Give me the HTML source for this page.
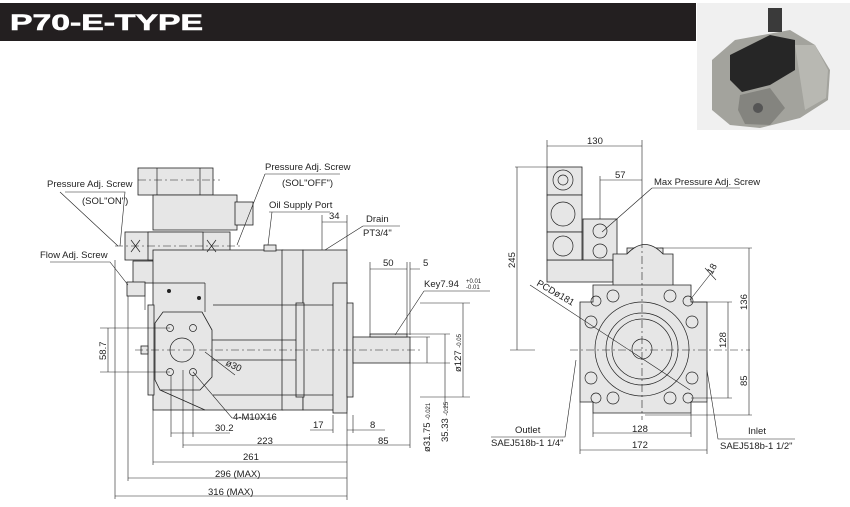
<!DOCTYPE html>
<html><head><meta charset="utf-8"><style>
html,body{margin:0;padding:0;background:#fff;}
svg{display:block;font-family:"Liberation Sans",Arial,sans-serif;}
</style></head><body>
<svg width="850" height="507" viewBox="0 0 850 507" xmlns="http://www.w3.org/2000/svg">
<rect x="0" y="3" width="696" height="38" fill="#231f20"/>
<text x="10" y="30" fill="#fff" font-size="22" font-weight="bold" textLength="193" lengthAdjust="spacingAndGlyphs" stroke="#fff" stroke-width="0.6">P70-E-TYPE</text>
<!-- photo -->
<rect x="697" y="3" width="153" height="127" fill="#f0f0f0"/>
<path d="M712 60 L735 40 L790 30 L815 45 L830 70 L828 100 L800 118 L760 128 L730 125 L712 110 Z" fill="#a3a39d"/>
<path d="M730 55 L770 35 L795 40 L795 70 L770 85 L742 92 L730 80 Z" fill="#262626"/>
<rect x="768" y="8" width="14" height="24" fill="#3a3a3a"/>
<path d="M740 95 L770 88 L785 108 L770 125 L745 124 L738 110 Z" fill="#84847f"/>
<circle cx="758" cy="108" r="5" fill="#555"/>
<path d="M795 45 L815 45 L828 70 L826 98 L805 110 Z" fill="#b8b8b2"/>

<g fill="#e6e6e6" stroke="#222" stroke-width="0.8">
<rect x="138" y="168" width="75" height="27"/>
<rect x="153" y="195" width="84" height="35"/>
<rect x="235" y="202" width="18" height="23"/>
<rect x="125" y="232" width="105" height="28"/>
<rect x="148" y="232" width="55" height="28"/>
<rect x="133" y="261" width="87" height="22"/>
<rect x="153" y="250" width="130" height="160"/>
<rect x="282" y="250" width="21" height="160"/>
<rect x="303" y="250" width="44" height="160"/>
<rect x="296" y="303" width="8" height="94"/>
<rect x="333" y="283" width="14" height="130"/>
<rect x="347" y="303" width="6" height="94"/>
<rect x="353" y="337" width="57" height="26"/>
<rect x="370" y="334" width="37" height="3"/>
<rect x="148" y="305" width="6" height="90"/>
<rect x="141" y="346" width="7" height="8"/>
<rect x="264" y="245" width="12" height="6"/>
<rect x="127" y="282" width="18" height="14"/>
<path d="M163 312 L202 312 L212 330 L212 377 L200 390 L160 390 L155 380 L155 323 Z"/>
</g>
<g fill="none" stroke="#222" stroke-width="0.7">
<line x1="153" y1="283" x2="205" y2="283"/><line x1="205" y1="283" x2="205" y2="312"/>
<line x1="213" y1="305" x2="333" y2="305"/><line x1="213" y1="395" x2="333" y2="395"/>
<line x1="212" y1="340" x2="296" y2="340"/><line x1="212" y1="360" x2="296" y2="360"/>
<line x1="160" y1="390" x2="205" y2="410"/>
<line x1="157" y1="168" x2="157" y2="195"/><line x1="200" y1="168" x2="200" y2="195"/>
<circle cx="182" cy="350" r="12"/>
<circle cx="170" cy="328" r="3.5"/><circle cx="193" cy="328" r="3.5"/>
<circle cx="170" cy="372" r="3.5"/><circle cx="193" cy="372" r="3.5"/>
<path d="M131 240 L140 252 M140 240 L131 252 M207 240 L216 252 M216 240 L207 252"/>
</g>
<circle cx="169" cy="291" r="2" fill="#222"/><circle cx="199" cy="298" r="2" fill="#222"/>
<g stroke="#222" stroke-width="0.6" stroke-dasharray="8,3,2,3">
<line x1="135" y1="350" x2="420" y2="350"/>
<line x1="115" y1="246" x2="240" y2="246"/>
<line x1="138" y1="180" x2="220" y2="180"/>
</g>
<g font-size="9.5" fill="#222">
<text x="47" y="187">Pressure Adj. Screw</text>
<text x="82" y="204">(SOL"ON")</text>
<text x="265" y="170">Pressure Adj. Screw</text>
<text x="282" y="186">(SOL"OFF")</text>
<text x="269" y="208">Oil Supply Port</text>
<text x="329" y="219">34</text>
<text x="366" y="222">Drain</text>
<text x="363" y="236">PT3/4"</text>
<text x="40" y="258">Flow Adj. Screw</text>
<text x="383" y="266">50</text>
<text x="423" y="266">5</text>
<text x="424" y="287">Key7.94</text>
<text x="466" y="283" font-size="6">+0.01</text>
<text x="466" y="289" font-size="6">-0.01</text>
<text x="233" y="420">4-M10X16</text>
<text x="215" y="431">30.2</text>
<text x="313" y="428">17</text>
<text x="370" y="428">8</text>
<text x="257" y="444">223</text>
<text x="378" y="444">85</text>
<text x="243" y="460">261</text>
<text x="215" y="477">296 (MAX)</text>
<text x="208" y="495">316 (MAX)</text>
<text transform="translate(106,360) rotate(-90)">58.7</text>
<text transform="translate(225,365) rotate(25)">ø30</text>
<text transform="translate(430,452) rotate(-90)">ø31.75 <tspan font-size="6">-0.021</tspan></text>
<text transform="translate(448,442) rotate(-90)">35.33 <tspan font-size="6">-0.25</tspan></text>
<text transform="translate(461,372) rotate(-90)">ø127 <tspan font-size="6">-0.05</tspan></text>
</g>
<g stroke="#222" stroke-width="0.6" fill="none">
<path d="M65 192 L125 192 L120 246 M60 192 L118 246"/>
<path d="M265 174 L340 174 M265 174 L237 245"/>
<path d="M269 212 L330 212 M272 212 L268 245"/>
<path d="M322 222 L347 222 M322 215 L322 250 M347 215 L347 250"/>
<path d="M363 226 L400 226 M363 226 L325 250"/>
<path d="M50 262 L110 262 L128 285"/>
<path d="M370 269 L407 269 M370 262 L370 335 M407 262 L407 335 M410 269 L420 269 M410 262 L410 335"/>
<path d="M424 291 L490 291 M424 291 L395 335"/>
<path d="M420 303 L470 303 M463 303 L463 397 M420 397 L470 397"/>
<path d="M410 337 L430 337 M427 337 L427 363 M410 363 L450 363 M445 334 L445 410 M407 334 L450 334"/>
<path d="M100 328 L170 328 M100 372 L170 372 M108 328 L108 372"/>
<path d="M193 372 L232 418 L275 418 M205 352 L235 375"/>
<path d="M171 375 L171 437 M193 375 L193 437 M171 433 L193 433 M193 433 L230 433"/>
<path d="M183 370 L183 448 M183 445 L347 445 M347 413 L347 500 M347 445 L410 445 M410 363 L410 448"/>
<path d="M333 415 L333 433 M310 430 L333 430 M347 430 L385 430 M353 415 L353 433"/>
<path d="M153 395 L153 465 M153 462 L347 462"/>
<path d="M128 296 L128 481 M128 478 L347 478 M145 296 L145 310"/>
<path d="M115 260 L115 499 M115 496 L347 496"/>
</g>

<!-- right view -->
<g fill="#e6e6e6" stroke="#222" stroke-width="0.8">
<rect x="547" y="260" width="66" height="22"/>
<rect x="547" y="167" width="35" height="28"/>
<rect x="547" y="195" width="35" height="37"/>
<rect x="547" y="232" width="35" height="28"/>
<rect x="583" y="219" width="34" height="41"/>
<rect x="627" y="248" width="36" height="6"/>
<path d="M613 287 L613 254 L627 254 Q645 235 663 254 L673 254 L673 287 Z"/>
<path d="M593 285 L691 285 L691 302 L707 302 L707 402 L691 402 L691 413 L593 413 L593 402 L580 402 L580 302 L593 302 Z"/>
</g>
<g fill="none" stroke="#222" stroke-width="0.7">
<circle cx="642" cy="349" r="47"/>
<circle cx="642" cy="349" r="36"/>
<circle cx="642" cy="349" r="30"/>
<circle cx="642" cy="349" r="10"/>
<circle cx="563" cy="180" r="10"/><circle cx="563" cy="180" r="5"/>
<circle cx="563" cy="214" r="12"/>
<circle cx="563" cy="246" r="10"/>
<circle cx="600" cy="231" r="7"/><circle cx="600" cy="251" r="7"/>
<circle cx="591" cy="322" r="6"/><circle cx="692" cy="322" r="6"/>
<circle cx="591" cy="378" r="6"/><circle cx="692" cy="378" r="6"/>
<circle cx="613" cy="296" r="6"/><circle cx="670" cy="296" r="6"/>
<circle cx="613" cy="398" r="6"/><circle cx="670" cy="398" r="6"/>
<circle cx="596" cy="301" r="5"/><circle cx="688" cy="301" r="5"/>
<circle cx="596" cy="398" r="5"/><circle cx="688" cy="398" r="5"/>
</g>
<g stroke="#222" stroke-width="0.6" stroke-dasharray="8,3,2,3">
<line x1="642" y1="240" x2="642" y2="420"/>
<line x1="570" y1="350" x2="750" y2="350"/>
</g>
<g font-size="9.5" fill="#222">
<text x="587" y="144">130</text>
<text x="615" y="178">57</text>
<text x="654" y="185">Max Pressure Adj. Screw</text>
<text transform="translate(515,268) rotate(-90)">245</text>
<text transform="translate(747,310) rotate(-90)">136</text>
<text transform="translate(726,348) rotate(-90)">128</text>
<text transform="translate(747,386) rotate(-90)">85</text>
<text transform="translate(536,285) rotate(30)">PCDø181</text>
<text transform="translate(712,275) rotate(-60)">18</text>
<text x="632" y="432">128</text>
<text x="632" y="448">172</text>
<text x="515" y="433">Outlet</text>
<text x="491" y="446">SAEJ518b-1 1/4"</text>
<text x="748" y="434">Inlet</text>
<text x="720" y="449">SAEJ518b-1 1/2"</text>
</g>
<g stroke="#222" stroke-width="0.6" fill="none">
<path d="M547 146 L642 146 M547 140 L547 167 M642 140 L642 240"/>
<path d="M600 180 L642 180 M600 176 L600 219"/>
<path d="M652 188 L740 188 M652 188 L602 232"/>
<path d="M515 167 L547 167 M517 167 L517 350 M510 350 L535 350"/>
<path d="M660 248 L752 248 M749 248 L749 415 M645 415 L752 415"/>
<path d="M691 302 L732 302 M728 302 L728 398 M691 398 L732 398"/>
<path d="M593 413 L593 437 M691 413 L691 437 M593 433 L691 433"/>
<path d="M580 402 L580 454 M707 402 L707 454 M580 450 L707 450"/>
<path d="M530 285 L690 390"/>
<path d="M690 300 L712 272 M705 268 L716 280"/>
<path d="M491 437 L565 437 L576 360"/>
<path d="M795 439 L718 439 L707 370"/>
</g>
</svg>
</body></html>
